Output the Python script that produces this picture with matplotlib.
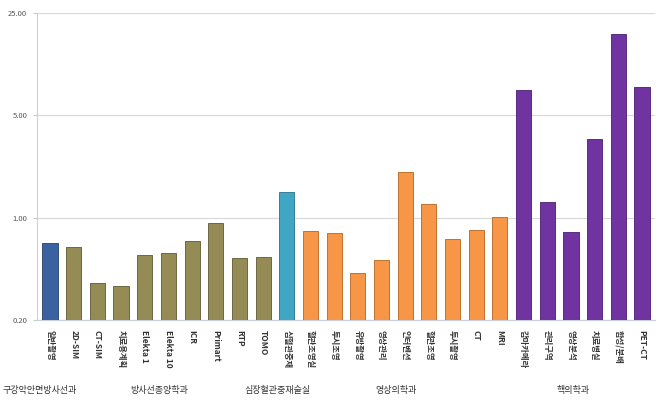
import matplotlib
matplotlib.use("Agg")
import matplotlib.pyplot as plt
import matplotlib.transforms as mtransforms
import numpy as np

plt.rcParams['font.family'] = ['Noto Sans CJK KR', 'DejaVu Sans']

labels = ["일반촬영", "2D-SIM", "CT-SIM", "치료용계획", "Elekta 1", "Elekta 10", "ICR", "Primart", "RTP", "TOMO",
          "심혈관중재", "혈관조영실", "투시조영", "유방촬영", "영상관리", "인터벤션", "혈관조영", "투시촬영", "CT", "MRI",
          "감마카메라", "관리구역", "영상분석", "치료병실", "합성/분배", "PET-CT"]
values = [0.67, 0.63, 0.36, 0.34, 0.56, 0.57, 0.69, 0.92, 0.53, 0.54,
          1.49, 0.81, 0.78, 0.42, 0.51, 2.04, 1.24, 0.71, 0.83, 1.01,
          7.4, 1.27, 0.80, 3.43, 18.1, 7.76]
groups = ["구강악안면방사선과", "방사선종양학과", "심장혈관중재술실", "영상의학과", "핵의학과"]
group_sizes = [1, 9, 1, 9, 6]
group_colors = ["#3A62A0", "#958B55", "#3FA6C4", "#F79646", "#7233A2"]
edge_colors = ["#243F6B", "#5F5833", "#2A7088", "#B5651F", "#4A1C6E"]
yticks = [0.2, 1, 5, 25]
base = 0.2

colors, edges = [], []
for c, e, n in zip(group_colors, edge_colors, group_sizes):
    colors += [c] * n
    edges += [e] * n

fig = plt.figure(figsize=(6.63, 4.19), dpi=100)
ax = fig.add_axes([37 / 663, 1 - 320 / 419, 618 / 663, 307 / 419])
x = np.arange(len(values))
ax.bar(x, np.array(values) - base, width=0.64, bottom=base, color=colors, edgecolor=edges,
       linewidth=0.6, zorder=3)
ax.set_yscale("log")
ax.set_ylim(0.2, 25)
ax.set_xlim(-0.55, len(values) - 0.45)
ax.set_yticks(yticks)
ax.set_yticklabels([f"{v:.2f}" for v in yticks], fontsize=5.5, color="#555555")
ax.minorticks_off()
ax.tick_params(axis="y", length=3, color="#cccccc", pad=4)
ax.tick_params(axis="x", length=0)
ax.set_xticks([])
ax.grid(axis="y", color="#d9d9d9", linewidth=0.9, zorder=0)
for s in ("top", "right"):
    ax.spines[s].set_visible(False)
ax.spines["left"].set_color("#d0d0d0")
ax.spines["bottom"].set_color("#c8d0dc")

trans = mtransforms.blended_transform_factory(ax.transData, fig.transFigure)
for xi, lab in zip(x, labels):
    ax.text(xi, 1 - 330 / 419, lab, rotation=-90, ha="center", va="top", fontsize=6,
            fontweight="bold", color="#333333", transform=trans)

start = 0
for g, n in zip(groups, group_sizes):
    cx = start + (n - 1) / 2
    if start == 0:
        ax.text(0.004, 1 - 390 / 419, g, ha="left", va="center", fontsize=6.5, color="#333333",
                transform=fig.transFigure)
    else:
        ax.text(cx - 0.4, 1 - 390 / 419, g, ha="center", va="center", fontsize=6.5, color="#333333",
                transform=trans)
    start += n

fig.savefig("out.png", dpi=100)
